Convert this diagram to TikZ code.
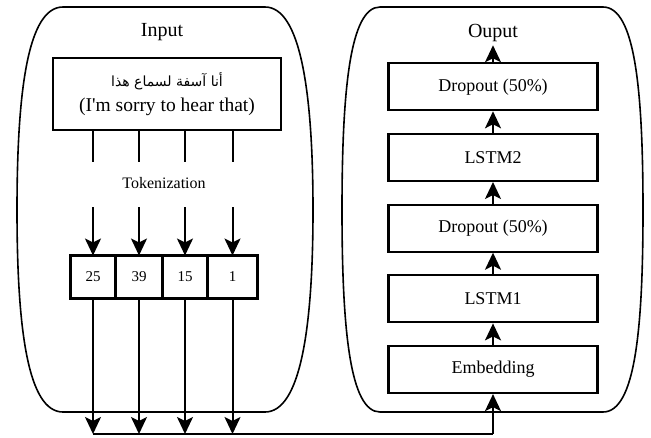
\documentclass[tikz,border=0pt]{standalone}
\usepackage{fontspec}
\setmainfont{Liberation Serif}
\newfontfamily\timesfont{Liberation Serif}
\newfontfamily\arabicfont[Script=Arabic]{DejaVu Sans}
\TeXXeTstate=1
\usetikzlibrary{positioning, arrows.meta}

\begin{document}
\begin{tikzpicture}[x=1pt, y=-1pt, node distance=21.5pt,
        layer/.style={draw, line width=2.2pt, minimum width=209pt, minimum height=47pt, font=\timesfont\fontsize{18}{20}\selectfont},
        token/.style={draw, line width=2.2pt, minimum height=43pt, inner sep=0pt, outer sep=0pt, font=\timesfont\fontsize{15}{17}\selectfont},
        label/.style={font=\timesfont\fontsize{20}{22}\selectfont},
        link/.style={line width=2pt},
        arr/.style={-{Stealth[length=17pt, width=16pt, inset=4pt]}, line width=2pt},
        wall/.style={line width=1.6pt}]
        \useasboundingbox (0,0) rectangle (651,437);

        % the two containers
        \draw[wall] (63,7) -- (265,7) .. controls (300,7) and (313,90) .. (313,210)
            .. controls (313,330) and (300,412) .. (265,412) -- (63,412)
            .. controls (28,412) and (17,330) .. (17,210)
            .. controls (17,90) and (28,7) .. (63,7) -- cycle;
        \draw[wall] (380,7) -- (603,7) .. controls (635,7) and (643,90) .. (643,210)
            .. controls (643,330) and (635,412) .. (603,412) -- (380,412)
            .. controls (350,412) and (342,330) .. (342,210)
            .. controls (342,90) and (350,7) .. (380,7) -- cycle;

        % input side
        \node[label] (inlbl) at (162,32) {Input};
        \node[draw, line width=2.2pt, minimum width=228pt, minimum height=72pt, align=center,
            font=\timesfont\fontsize{19.5}{25}\selectfont] (sent) at (167,94)
            {{\arabicfont\fontsize{14}{16}\selectfont\beginR أنا آسفة لسماع هذا\endR}\\
             (I\textquotesingle m sorry to hear that)};
        \node[font=\timesfont\fontsize{16}{18}\selectfont] (tok) at (164,183) {Tokenization};

        \node[token, minimum width=45pt] (t25) at (93,277) {25};
        \node[token, minimum width=47pt, right=0pt of t25] (t39) {39};
        \node[token, minimum width=45pt, right=0pt of t39] (t15) {15};
        \node[token, minimum width=50pt, right=0pt of t15] (t1) {1};

        \coordinate (cutA) at (0,162);
        \coordinate (cutB) at (0,207);
        \coordinate (busL) at (93,434);

        % output side
        \node[layer] (emb) at (493,369.5) {Embedding};
        \node[layer, above=of emb] (lstm1) {LSTM1};
        \node[layer, above=of lstm1] (dropA) {Dropout (50\%)};
        \node[layer, above=of dropA] (lstm2) {LSTM2};
        \node[layer, above=of lstm2] (dropB) {Dropout (50\%)};
        \node[label] (outlbl) at (493,33) {Ouput};

        \foreach \t in {t25,t39,t15,t1} {
            \draw[link] (sent.south -| \t) -- (cutA -| \t);
            \draw[arr] (cutB -| \t) -- (\t);
            \draw[arr] (\t) -- (\t |- busL);
        }
        \draw[link] (busL) -- (busL -| emb);
        \draw[arr] (busL -| emb) -- (emb);
        \draw[arr] (emb) -- (lstm1);
        \draw[arr] (lstm1) -- (dropA);
        \draw[arr] (dropA) -- (lstm2);
        \draw[arr] (lstm2) -- (dropB);
        \draw[arr] (dropB) -- (outlbl);
    \end{tikzpicture}
\end{document}
